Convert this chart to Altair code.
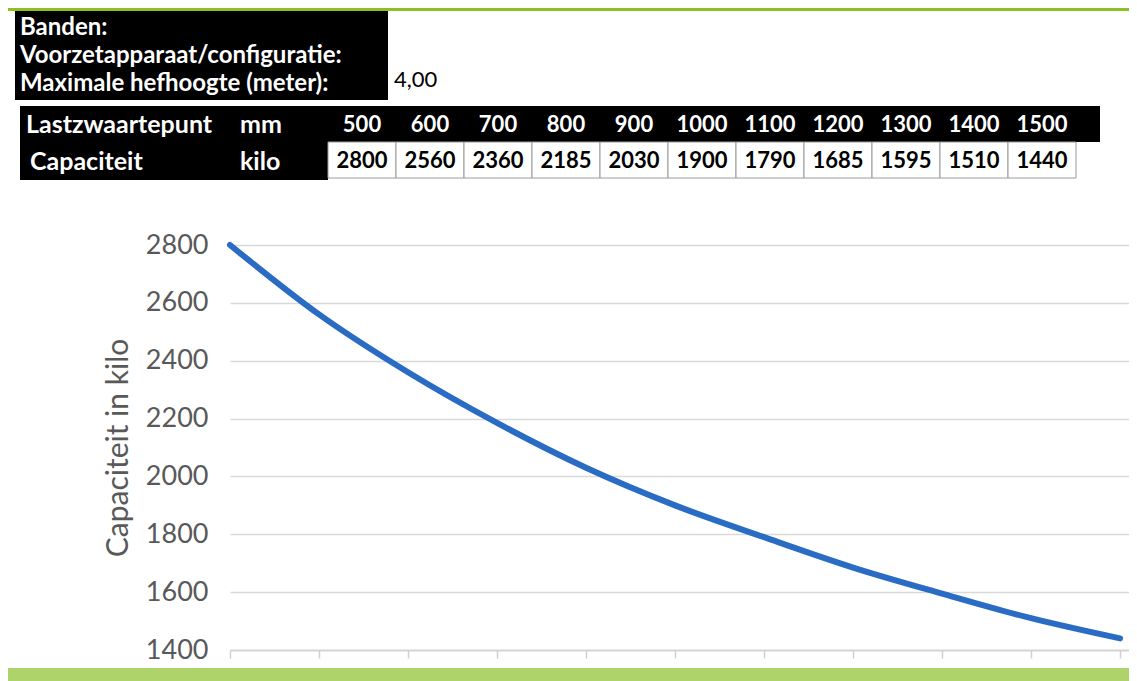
import altair as alt
import pandas as pd

# ---- data ----
lastzwaartepunt_mm = [500, 600, 700, 800, 900, 1000, 1100, 1200, 1300, 1400, 1500]
capaciteit_kilo = [2800, 2560, 2360, 2185, 2030, 1900, 1790, 1685, 1595, 1510, 1440]
y_ticks = [1400, 1600, 1800, 2000, 2200, 2400, 2600, 2800]
info_labels = ["Banden:", "Voorzetapparaat/configuratie:", "Maximale hefhoogte (meter):"]
hefhoogte = "4,00"

df = pd.DataFrame({"mm": lastzwaartepunt_mm, "kilo": capaciteit_kilo})
df["mm_txt"] = df["mm"].astype(str)
df["kilo_txt"] = df["kilo"].astype(str)

FONT = "Lato"
PLOT_LEFT = 230          # window x of plot origin
PLOT_TOP = 245           # window y of plot origin
W = 1129 - PLOT_LEFT
H = 650 - PLOT_TOP
PAD = {"left": PLOT_LEFT - 8, "top": PLOT_TOP - 8, "right": 0, "bottom": 31}


def px(x):
    return x - PLOT_LEFT


def py(y):
    return y - PLOT_TOP


one = pd.DataFrame({"a": [0]})

# ---- line chart ----
line = alt.Chart(df).mark_line(
    color="#2a6cc4", strokeWidth=6, interpolate="monotone", strokeCap="round"
).encode(
    x=alt.X("mm:Q", scale=alt.Scale(domain=[500, 1510], nice=False, zero=False),
            axis=alt.Axis(values=lastzwaartepunt_mm, labels=False, grid=False, title=None,
                          domainColor="#d0d0d0", domainWidth=1.5, tickColor="#d0d0d0",
                          tickSize=8, tickWidth=1.5)),
    y=alt.Y("kilo:Q", scale=alt.Scale(domain=[1400, 2800], nice=False, zero=False),
            axis=alt.Axis(values=y_ticks, format="d", title="Capaciteit in kilo", grid=True,
                          gridColor="#d9d9d9", gridWidth=1.5, domain=False, ticks=False,
                          labelFont=FONT, labelFontSize=27, labelColor="#595959",
                          labelPadding=22, titleFont=FONT, titleFontSize=30,
                          titleColor="#595959", titleFontWeight="normal", titlePadding=12)),
)

# ---- table ----
band_x = alt.X("mm_txt:O", sort=[str(v) for v in lastzwaartepunt_mm],
               scale=alt.Scale(type="band", range=[px(328), px(328 + 68 * 11)],
                               paddingInner=0, paddingOuter=0),
               axis=None)

layers = []
# decorative green band at the top
layers.append(alt.Chart(one).mark_rect(color="#8dc021").encode(
    x=alt.value(px(8)), x2=alt.value(W), y=alt.value(py(8)), y2=alt.value(py(11))))

layers.append(alt.Chart(one).mark_rect(color="black").encode(
    x=alt.value(px(15)), x2=alt.value(px(388)), y=alt.value(py(11)), y2=alt.value(py(100))))

info_y = [28, 56, 84]
for lab, yy in zip(info_labels, info_y):
    layers.append(alt.Chart(pd.DataFrame({"t": [lab]})).mark_text(
        align="left", baseline="middle", font=FONT, fontSize=24, fontWeight="bold",
        color="white").encode(x=alt.value(px(20)), y=alt.value(py(yy)), text="t:N"))

layers.append(alt.Chart(pd.DataFrame({"t": [hefhoogte]})).mark_text(
    align="left", baseline="middle", font=FONT, fontSize=22, color="black"
).encode(x=alt.value(px(394)), y=alt.value(py(80)), text="t:N"))

# header (mm) row black band and label cell
layers.append(alt.Chart(one).mark_rect(color="black").encode(
    x=alt.value(px(20)), x2=alt.value(px(1100)), y=alt.value(py(106)), y2=alt.value(py(142))))
layers.append(alt.Chart(one).mark_rect(color="black").encode(
    x=alt.value(px(20)), x2=alt.value(px(328)), y=alt.value(py(142)), y2=alt.value(py(180))))

lbl_common = dict(align="left", baseline="middle", font=FONT, fontSize=25,
                  fontWeight="bold", color="white")
for t, xx, yy in [("Lastzwaartepunt", 26, 125), ("mm", 240, 125),
                  ("Capaciteit", 30, 162), ("kilo", 240, 162)]:
    layers.append(alt.Chart(pd.DataFrame({"t": [t]})).mark_text(**lbl_common).encode(
        x=alt.value(px(xx)), y=alt.value(py(yy)), text="t:N"))

layers.append(alt.Chart(df).mark_text(
    baseline="middle", font=FONT, fontSize=22, fontWeight="bold", color="white"
).encode(x=band_x, y=alt.value(py(125)), text="mm_txt:N"))

layers.append(alt.Chart(df).mark_rect(
    fill="white", stroke="#9a9a9a", strokeWidth=1
).encode(x=band_x, y=alt.value(py(142)), y2=alt.value(py(178))))

layers.append(alt.Chart(df).mark_text(
    baseline="middle", font=FONT, fontSize=22, fontWeight="bold", color="black"
).encode(x=band_x, y=alt.value(py(161)), text="kilo_txt:N"))

# decorative green band at the bottom
layers.append(alt.Chart(one).mark_rect(color="#afd36b").encode(
    x=alt.value(px(8)), x2=alt.value(W), y=alt.value(py(668)), y2=alt.value(py(690))))

chart = alt.layer(line, *layers).resolve_scale(
    x="independent", y="independent"
).properties(
    width=W, height=H, padding=PAD,
    autosize=alt.AutoSizeParams(type="none"),
    background="white",
).configure_view(stroke=None)

chart.save("out.html", embed_options={"renderer": "svg", "actions": False})
